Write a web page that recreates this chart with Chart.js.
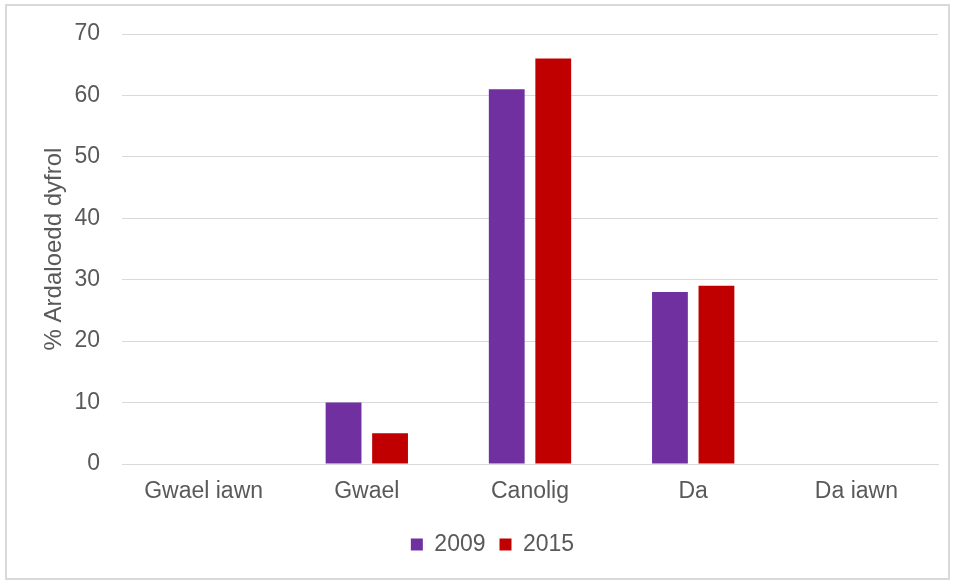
<!DOCTYPE html>
<html>
<head>
<meta charset="utf-8">
<script src="https://cdn.jsdelivr.net/npm/chart.js@4"></script>
<style>
    body { margin: 0; background: #ffffff; }
    #frame {
        position: absolute;
        left: 5px;
        top: 4px;
        width: 945px;
        height: 576px;
        border: 2px solid #d9d9d9;
        box-sizing: border-box;
        background: #ffffff;
    }
    #chartWrap { position: absolute; left: 0; top: 0; width: 941px; height: 572px; }
</style>
</head>
<body>
<div id="frame">
    <div id="chartWrap"><canvas id="ratingChart"></canvas></div>
</div>
<script>
// Data
const categories = ['Gwael iawn', 'Gwael', 'Canolig', 'Da', 'Da iawn'];
const values2009 = [0, 10, 61, 28, 0];
const values2015 = [0, 5, 66, 29, 0];
const yTicks = [0, 10, 20, 30, 40, 50, 60, 70];

const textColor = '#595959';
const gridColor = '#d9d9d9';
const family = '"Liberation Sans", Arial, sans-serif';
const font = { family: family, size: 23 };

// the legend in the reference sits a little right of the canvas centre
const legendShift = {
    id: 'legendShift',
    afterLayout(chart) {
        if (chart.legend) {
            chart.legend.left += 20;
            chart.legend.right += 20;
        }
    }
};

const ctx = document.getElementById('ratingChart').getContext('2d');

new Chart(ctx, {
    type: 'bar',
    data: {
        labels: categories,
        datasets: [
            {
                label: '2009',
                data: values2009,
                backgroundColor: '#7030A0',
                categoryPercentage: 0.57,
                barPercentage: 0.77
            },
            {
                label: '2015',
                data: values2015,
                backgroundColor: '#C00000',
                categoryPercentage: 0.57,
                barPercentage: 0.77
            }
        ]
    },
    options: {
        responsive: true,
        maintainAspectRatio: false,
        animation: false,
        layout: {
            padding: { top: 28, right: 10, bottom: 12, left: 0 }
        },
        plugins: {
            legend: {
                position: 'bottom',
                labels: {
                    color: textColor,
                    font: font,
                    boxWidth: 12,
                    boxHeight: 12,
                    padding: 14
                }
            },
            tooltip: { enabled: false }
        },
        scales: {
            x: {
                grid: { display: false },
                border: { display: true, color: gridColor, width: 1 },
                ticks: { color: textColor, font: font, padding: 6, maxRotation: 0 },
                afterFit: scale => {
                    scale.height = 55;
                    scale.paddingLeft = 0;
                    scale.paddingRight = 0;
                }
            },
            y: {
                min: 0,
                max: 70,
                afterBuildTicks: scale => {
                    scale.ticks = yTicks.map(v => ({ value: v }));
                },
                grid: { color: gridColor, drawTicks: false },
                border: { display: false },
                ticks: { color: textColor, font: font, padding: 22 },
                title: {
                    display: true,
                    text: '% Ardaloedd dyfrol',
                    color: textColor,
                    font: { family: family, size: 24 },
                    padding: { top: 33, bottom: 0 }
                },
                afterFit: scale => {
                    scale.width = 115;
                    scale.paddingTop = 0;
                    scale.paddingBottom = 0;
                }
            }
        }
    },
    plugins: [legendShift]
});
</script>
</body>
</html>
